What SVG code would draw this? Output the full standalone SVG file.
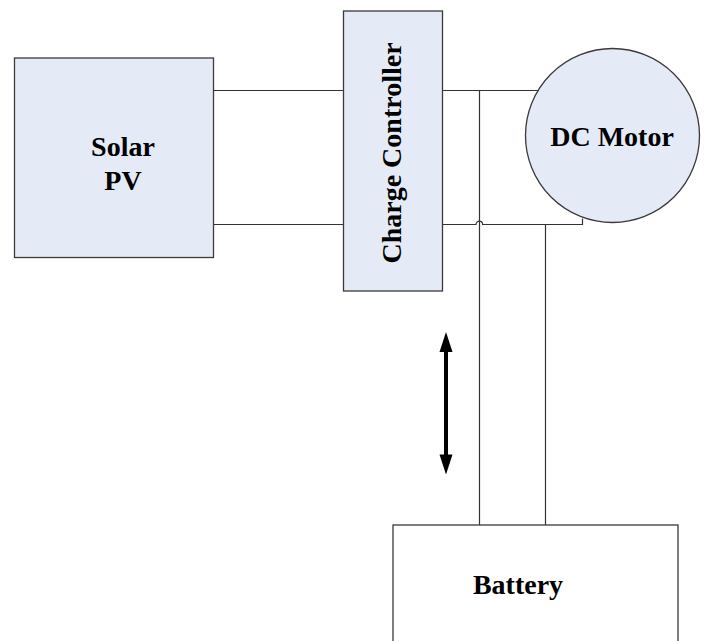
<svg xmlns="http://www.w3.org/2000/svg" width="704" height="641" viewBox="0 0 704 641">
<style>
.box{fill:#e5ebf6;stroke:#3a3a3a;stroke-width:1.3}
.wbox{fill:#ffffff;stroke:#3a3a3a;stroke-width:1.3}
.lbl{font-family:"Liberation Serif","Times New Roman",serif;font-weight:bold;font-size:28px;fill:#000;text-anchor:middle}
.wire{fill:none;stroke:#333;stroke-width:1.2}
</style>
<rect width="704" height="641" fill="#ffffff"/>
<g id="connectors">
<path class="wire" d="M213.5,90.5H343.5"/>
<path class="wire" d="M213.5,224.5H343.5"/>
<path class="wire" d="M442.5,90.5H544.5V85.5"/>
<path class="wire" d="M442.5,224.5H476A3.3,3.3 0 0 1 482.6,224.5H582.5V218.5"/>
<path class="wire" d="M479.5,90.5V525"/>
<path class="wire" d="M545.5,224.5V525"/>
<g id="arrow">
<line x1="446" y1="346" x2="446" y2="460" stroke="#000" stroke-width="4"/>
<polygon points="446,332 452.5,352 439.5,352" fill="#000"/>
<polygon points="446,474.5 452.5,454.5 439.5,454.5" fill="#000"/>
</g>
</g>
<g id="solar-pv">
<rect class="box" x="14.5" y="58" width="199" height="199.5"/>
<text class="lbl" x="123" y="156">Solar</text>
<text class="lbl" x="123" y="190">PV</text>
</g>
<g id="charge-controller">
<rect class="box" x="343.5" y="11" width="99" height="280"/>
<text class="lbl" transform="translate(401,153) rotate(-90)" x="0" y="0">Charge Controller</text>
</g>
<g id="dc-motor">
<circle class="box" cx="612.5" cy="135.5" r="87"/>
<text class="lbl" x="612" y="146">DC Motor</text>
</g>
<g id="battery">
<rect class="wbox" x="393" y="525" width="285" height="140"/>
<text class="lbl" x="518" y="594">Battery</text>
</g>
</svg>
